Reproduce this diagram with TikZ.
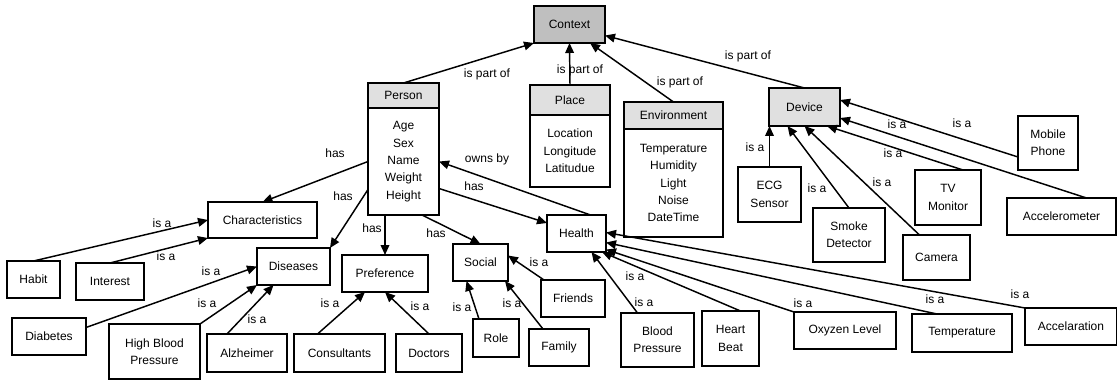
\documentclass[tikz,border=0pt]{standalone}
\usepackage{fontspec}
\setmainfont{Liberation Sans}
\usetikzlibrary{arrows.meta,positioning,calc}
\definecolor{ctxgray}{gray}{0.75}
\definecolor{headgray}{gray}{0.88}

\tikzset{
  box/.style={draw, line width=1.3pt, outer sep=0pt, inner sep=1pt, align=center,
    font=\fontsize{9}{13}\selectfont},
  head/.style={box, fill=headgray},
  arr/.style={-{Triangle[length=7.5pt,width=6.5pt]}, line width=1.1pt},
  lab/.style={font=\fontsize{9}{11}\selectfont, inner sep=1pt}
}

\begin{document}
\begin{tikzpicture}[x=0.75pt,y=-0.75pt]
    \useasboundingbox (0,0) rectangle (1117,381);

    % top level and the classes with attributes
    \node[box, fill=ctxgray, minimum width=53.25pt, minimum height=27.75pt] (context) at (569.5,24.5) {Context};
    \node[head, minimum width=53.25pt, minimum height=18.75pt] (person) at (403.5,95.5) {Person};
    \node[box, below=0pt of person, minimum width=53.25pt, minimum height=80.25pt] (personattr) {Age\\Sex\\Name\\Weight\\Height};
    \node[head, minimum width=60pt, minimum height=22.5pt] (place) at (570,100) {Place};
    \node[box, below=0pt of place, minimum width=60pt, minimum height=54pt] (placeattr) {Location\\Longitude\\Latitudue};
    \node[head, minimum width=74.25pt, minimum height=20.25pt] (env) at (673.5,115.5) {Environment};
    \node[box, below=0pt of env, minimum width=74.25pt, minimum height=81pt] (envattr) {Temperature\\Humidity\\Light\\Noise\\DateTime};
    \node[head, minimum width=53.25pt, minimum height=28.5pt] (device) at (804.5,107) {Device};

    % person side
    \node[box, minimum width=81.75pt, minimum height=27pt] (characteristics) at (262.5,220) {Characteristics};
    \node[box, minimum width=39.75pt, minimum height=27.75pt] (habit) at (33.5,279.5) {Habit};
    \node[box, minimum width=51pt, minimum height=27.75pt] (interest) at (110,281.5) {Interest};
    \node[box, minimum width=54.75pt, minimum height=27.75pt] (diseases) at (293.5,266.5) {Diseases};
    \node[box, minimum width=55.5pt, minimum height=27.75pt] (diabetes) at (49,336.5) {Diabetes};
    \node[box, minimum width=68.25pt, minimum height=41.25pt] (hbp) at (154.5,351.5) {High Blood\\Pressure};
    \node[box, minimum width=60pt, minimum height=28.5pt] (alzheimer) at (247,353) {Alzheimer};
    \node[box, minimum width=64.5pt, minimum height=27.75pt] (preference) at (385,273.5) {Preference};
    \node[box, minimum width=68.25pt, minimum height=28.5pt] (consultants) at (339.5,353) {Consultants};
    \node[box, minimum width=49.5pt, minimum height=28.5pt] (doctors) at (429,353) {Doctors};
    \node[box, minimum width=41.25pt, minimum height=27.75pt] (social) at (480.5,262.5) {Social};
    \node[box, minimum width=34.5pt, minimum height=28.5pt] (role) at (496,338) {Role};
    \node[box, minimum width=45pt, minimum height=27.75pt] (family) at (559,347.5) {Family};
    \node[box, minimum width=48pt, minimum height=27.75pt] (friends) at (573,298.5) {Friends};

    % health
    \node[box, minimum width=44.25pt, minimum height=27.75pt] (health) at (576.5,233.5) {Health};
    \node[box, minimum width=54.75pt, minimum height=40.5pt] (bp) at (657.5,340) {Blood\\Pressure};
    \node[box, minimum width=42.75pt, minimum height=41.25pt] (heartbeat) at (730.5,338.5) {Heart\\Beat};
    \node[box, minimum width=76.5pt, minimum height=27.75pt] (oxygen) at (845,330.5) {Oxyzen Level};
    \node[box, minimum width=75pt, minimum height=28.5pt] (temperature) at (962,333) {Temperature};
    \node[box, minimum width=69pt, minimum height=27.75pt] (accelaration) at (1071,326.5) {Accelaration};

    % devices
    \node[box, minimum width=45pt, minimum height=40.5pt] (mobile) at (1048,143) {Mobile\\Phone};
    \node[box, minimum width=47.25pt, minimum height=41.25pt] (ecg) at (769.5,194.5) {ECG\\Sensor};
    \node[box, minimum width=54pt, minimum height=40.5pt] (smoke) at (849,235) {Smoke\\Detector};
    \node[box, minimum width=49.5pt, minimum height=41.25pt] (tv) at (948,197.5) {TV\\Monitor};
    \node[box, minimum width=50.25pt, minimum height=33.75pt] (camera) at (936.5,257.5) {Camera};
    \node[box, minimum width=81.75pt, minimum height=27.75pt] (accelerometer) at (1061.5,216.5) {Accelerometer};

    % is part of
    \draw[arr] (person.north) -- (context.south west) node[lab] at (487,74) {is part of};
    \draw[arr] (place.north) -- (context.south) node[lab] at (580,70) {is part of};
    \draw[arr] (env.north) -- ($(context.south east)+(-15,0)$) node[lab] at (680,82) {is part of};
    \draw[arr] (device.north) -- ($(context.east)+(0,11)$) node[lab] at (748,56) {is part of};

    % has
    \draw[arr] (personattr.west) -- (characteristics.north) node[lab] at (335,153) {has};
    \draw[arr] ($(personattr.west)+(0,28)$) -- (diseases.north east) node[lab] at (343,196) {has};
    \draw[arr] (preference.north |- personattr.south) -- (preference.north) node[lab] at (372,228) {has};
    \draw[arr] ($(personattr.south east)+(-17,0)$) -- (social.north) node[lab] at (436,233) {has};
    \draw[arr] ($(personattr.east)+(0,27)$) -- ($(health.north west)+(0,8)$) node[lab] at (474,186) {has};
    \draw[arr] ($(health.north)+(14,0)$) -- (personattr.east) node[lab] at (487,159) {owns by};

    % is a
    \draw[arr] (habit.north) -- (characteristics.west) node[lab] at (162,223) {is a};
    \draw[arr] (interest.north) -- (characteristics.south west) node[lab] at (166,256) {is a};
    \draw[arr] ($(diabetes.east)+(0,-9)$) -- (diseases.west) node[lab] at (211,271) {is a};
    \draw[arr] (hbp.north east) -- (diseases.south west) node[lab] at (207,303) {is a};
    \draw[arr] ($(alzheimer.north)+(-20,0)$) -- ($(diseases.south)+(-20,0)$) node[lab] at (257,319) {is a};
    \draw[arr] ($(consultants.north)+(-22,0)$) -- ($(preference.south)+(-20,0)$) node[lab] at (330,303) {is a};
    \draw[arr] (doctors.north) -- (preference.south) node[lab] at (420,306) {is a};
    \draw[arr] ($(role.north)+(-17,0)$) -- ($(social.south)+(-14,0)$) node[lab] at (462,307) {is a};
    \draw[arr] ($(family.north)+(-16,0)$) -- ($(social.south east)+(-3,0)$) node[lab] at (512,303) {is a};
    \draw[arr] ($(friends.north)+(-29,0)$) -- ($(social.east)+(0,-7)$) node[lab] at (539,262) {is a};

    \draw[arr] ($(bp.north)+(-20,0)$) -- ($(health.south)+(15,0)$) node[lab] at (644,302) {is a};
    \draw[arr] ($(heartbeat.north)+(10,0)$) -- ($(health.south east)+(-4,0)$) node[lab] at (635,276) {is a};
    \draw[arr] (oxygen.north west) -- ($(health.east)+(0,16)$) node[lab] at (803,303) {is a};
    \draw[arr] ($(temperature.north)+(-25,0)$) -- ($(health.east)+(0,9)$) node[lab] at (935,299) {is a};
    \draw[arr] (accelaration.north west) -- ($(health.east)+(0,-1)$) node[lab] at (1020,294) {is a};

    \draw[arr] (ecg.north) -- (ecg.north |- device.south) node[lab] at (755,147) {is a};
    \draw[arr] (smoke.north) -- ($(device.south)+(-17,0)$) node[lab] at (817,188) {is a};
    \draw[arr] ($(camera.north)+(-17,0)$) -- (device.south) node[lab] at (882,182) {is a};
    \draw[arr] ($(tv.north)+(15,0)$) -- ($(device.south east)+(-13,0)$) node[lab] at (893,153) {is a};
    \draw[arr] ($(mobile.west)+(0,14)$) -- ($(device.east)+(0,-7)$) node[lab] at (962,123) {is a};
    \draw[arr] ($(accelerometer.north)+(25,0)$) -- ($(device.east)+(0,11)$) node[lab] at (897,124) {is a};
  \end{tikzpicture}
\end{document}
